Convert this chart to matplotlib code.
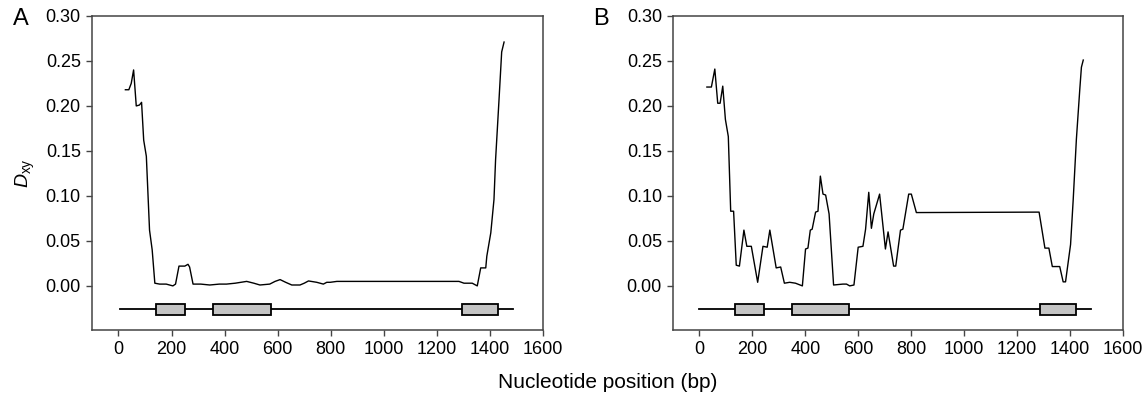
import matplotlib
matplotlib.use("Agg")
import matplotlib.pyplot as plt
from matplotlib.patches import Rectangle

# ---- data ----
pos_a = [26, 39, 48, 57, 67, 79, 87, 95, 105, 117, 127, 137, 155, 180, 205, 215,
         228, 250, 262, 268, 281, 310, 344, 380, 407, 440, 483, 510, 533, 570,
         590, 609, 630, 653, 684, 700, 716, 747, 772, 785, 798, 823, 1283, 1302,
         1333, 1352, 1365, 1384, 1388, 1403, 1415, 1421, 1434, 1444, 1453]
dxy_a = [0.218, 0.218, 0.225, 0.240, 0.200, 0.201, 0.204, 0.162, 0.144, 0.062,
         0.040, 0.003, 0.002, 0.002, 0.000, 0.002, 0.022, 0.022, 0.024, 0.021,
         0.002, 0.002, 0.001, 0.002, 0.002, 0.003, 0.005, 0.003, 0.001, 0.002,
         0.005, 0.007, 0.004, 0.001, 0.001, 0.003, 0.0055, 0.004, 0.002, 0.004,
         0.004, 0.005, 0.005, 0.003, 0.003, 0.000, 0.020, 0.020, 0.033, 0.059,
         0.096, 0.140, 0.207, 0.260, 0.271]

pos_b = [28, 45, 58, 69, 78, 88, 98, 109, 118, 129, 139, 151, 168, 179, 196, 220,
         240, 256, 266, 290, 307, 321, 341, 363, 389, 401, 410, 419, 426, 439,
         448, 457, 467, 477, 490, 507, 542, 556, 568, 584, 600, 618, 628, 640,
         650, 659, 681, 703, 713, 734, 742, 760, 769, 791, 801, 820, 1284, 1306,
         1321, 1334, 1362, 1375, 1384, 1403, 1413, 1425, 1438, 1444, 1451]
dxy_b = [0.221, 0.221, 0.241, 0.203, 0.203, 0.222, 0.185, 0.166, 0.083, 0.083,
         0.023, 0.022, 0.062, 0.044, 0.044, 0.004, 0.044, 0.043, 0.062, 0.020,
         0.021, 0.003, 0.004, 0.003, 0.000, 0.041, 0.042, 0.062, 0.063, 0.082,
         0.083, 0.122, 0.102, 0.101, 0.080, 0.001, 0.002, 0.002, 0.000, 0.001,
         0.043, 0.044, 0.063, 0.104, 0.064, 0.080, 0.102, 0.041, 0.060, 0.022,
         0.022, 0.062, 0.063, 0.102, 0.102, 0.0815, 0.082, 0.042, 0.042, 0.0215,
         0.0215, 0.0045, 0.0045, 0.046, 0.096, 0.163, 0.219, 0.243, 0.251]

# gene models: full span and exon boxes (start, end) in bp
span_a = (6, 1485)
exons_a = [(142, 252), (357, 573), (1293, 1429)]
span_b = (0, 1479)
exons_b = [(136, 243), (351, 565), (1288, 1424)]

xticks = [0, 200, 400, 600, 800, 1000, 1200, 1400, 1600]
yticks = [0.00, 0.05, 0.10, 0.15, 0.20, 0.25, 0.30]

GENE_Y = -0.026
BOX_H = 0.012
BOX_COLOR = "#c4c4c4"
SPINE_COLOR = "#444444"

plt.rcParams["font.family"] = ["Liberation Sans", "DejaVu Sans"]
plt.rcParams["mathtext.fontset"] = "custom"
plt.rcParams["mathtext.rm"] = "Liberation Sans"
plt.rcParams["mathtext.it"] = "Liberation Sans:italic"


def draw_panel(ax, pos, dxy, span, exons):
    ax.plot(pos, dxy, color="black", lw=1.0)
    ax.plot(span, [GENE_Y, GENE_Y], color="black", lw=1.3, zorder=2)
    for start, end in exons:
        ax.add_patch(Rectangle((start, GENE_Y - BOX_H / 2), end - start, BOX_H,
                               facecolor=BOX_COLOR, edgecolor="black", lw=1.3, zorder=3))
    ax.set_xlim(-100, 1600)
    ax.set_ylim(-0.049, 0.30)
    ax.set_xticks(xticks)
    ax.set_yticks(yticks)
    ax.set_yticklabels(["%.2f" % v for v in yticks])
    ax.tick_params(direction="out", length=4, width=1, color=SPINE_COLOR,
                   labelsize=13, pad=4)
    for sp in ax.spines.values():
        sp.set_color(SPINE_COLOR)
        sp.set_linewidth(1.1)


fig = plt.figure(figsize=(11.45, 3.96), dpi=100)
ax_a = fig.add_axes([0.0803, 0.1667, 0.394, 0.793])
ax_b = fig.add_axes([0.5878, 0.1667, 0.3927, 0.793])

draw_panel(ax_a, pos_a, dxy_a, span_a, exons_a)
draw_panel(ax_b, pos_b, dxy_b, span_b, exons_b)

ax_a.set_ylabel(r"$\mathit{D}_{\mathrm{xy}}$", fontsize=14, labelpad=6)
fig.text(0.011, 0.952, "A", fontsize=17, va="center", ha="left")
fig.text(0.518, 0.952, "B", fontsize=17, va="center", ha="left")
fig.text(0.531, 0.035, "Nucleotide position (bp)", fontsize=15, ha="center", va="center")

fig.savefig("out.png", dpi=100)
